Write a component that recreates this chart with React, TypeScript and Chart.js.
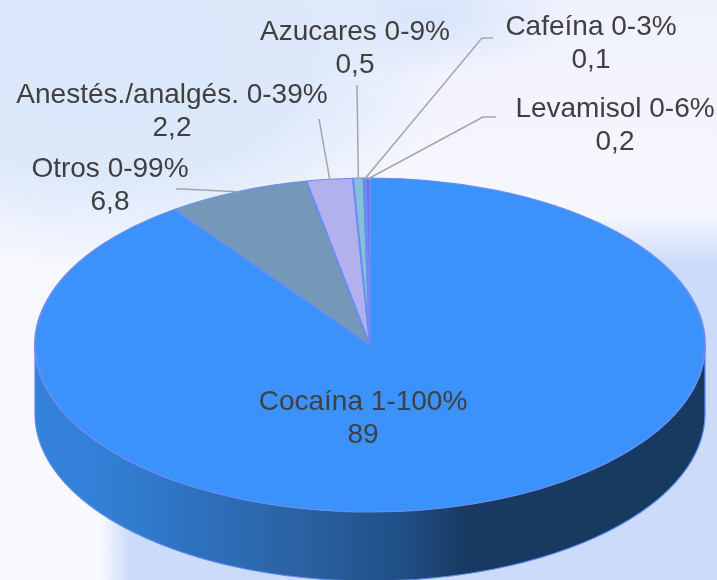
import React, { useEffect, useRef } from "react";
import { Chart, registerables } from "chart.js";

Chart.register(...registerables);

const categories = ["Cocaína 1-100%", "Otros 0-99%", "Anestés./analgés. 0-39%", "Azucares 0-9%", "Cafeína 0-3%", "Levamisol 0-6%"];
const values = [89, 6.8, 2.2, 0.5, 0.1, 0.2];
const valueLabels = ["89", "6,8", "2,2", "0,5", "0,1", "0,2"];
const sliceColors = ["#3A92FA", "#7698B8", "#B3B0EE", "#86C1D6", "#4F8CF0", "#6E6EEE"];

// Page layout of the labels (centre x, first baseline y) and their leader elbows.
const labelPlaces: [number, number][] = [
  [363, 410],
  [110, 177],
  [172, 103],
  [355, 40],
  [591, 35],
  [615, 117],
];
const leaderPaths: ([number, number][] | null)[] = [
  null,
  [[176, 189], [182, 189]],
  [[319, 119]],
  [[357, 85]],
  [[493, 38], [482, 38]],
  [[496, 117], [483, 117]],
];
const SQUASH = 0.4985;
const DEPTH = 69;

const pie3d = {
  id: "pie3d",
  beforeDatasetsDraw(chart: any) {
    const { ctx } = chart;
    const arc = chart.getDatasetMeta(0).data[0];
    const { x, y, outerRadius: r } = arc;
    const ry = r * SQUASH;
    ctx.save();
    const g = ctx.createLinearGradient(x - r, 0, x + r, 0);
    g.addColorStop(0, "#3582DC");
    g.addColorStop(0.1, "#3280D6");
    g.addColorStop(0.25, "#2E70BC");
    g.addColorStop(0.4, "#2A62A2");
    g.addColorStop(0.55, "#204F86");
    g.addColorStop(0.64, "#183A62");
    g.addColorStop(1, "#173A60");
    ctx.beginPath();
    ctx.ellipse(x, y, r, ry, 0, 0, Math.PI, false);
    ctx.lineTo(x - r, y + DEPTH);
    ctx.ellipse(x, y + DEPTH, r, ry, 0, Math.PI, 0, true);
    ctx.closePath();
    ctx.fillStyle = g;
    ctx.fill();
    ctx.beginPath();
    ctx.moveTo(x - r, y);
    ctx.lineTo(x - r, y + DEPTH);
    ctx.ellipse(x, y + DEPTH, r, ry, 0, Math.PI, 0, true);
    ctx.lineTo(x + r, y);
    ctx.strokeStyle = "#5E8BF2";
    ctx.lineWidth = 1.2;
    ctx.stroke();
    ctx.restore();
    ctx.save();
    ctx.translate(x, y);
    ctx.scale(1, SQUASH);
    ctx.translate(-x, -y);
  },
  afterDatasetsDraw(chart: any) {
    const { ctx } = chart;
    ctx.restore();
    const meta = chart.getDatasetMeta(0).data;
    ctx.save();
    ctx.strokeStyle = "#A6A6A6";
    ctx.lineWidth = 1.5;
    ctx.lineJoin = "round";
    leaderPaths.forEach((path, i) => {
      if (!path) return;
      const a = meta[i];
      const mid = (a.startAngle + a.endAngle) / 2;
      const reach = a.outerRadius - (i === 1 ? 0 : 2);
      const ex = a.x + reach * Math.cos(mid);
      const ey = a.y + reach * SQUASH * Math.sin(mid);
      ctx.beginPath();
      path.forEach(([px, py], k) => (k ? ctx.lineTo(px, py) : ctx.moveTo(px, py)));
      ctx.lineTo(ex, ey);
      ctx.stroke();
    });
    ctx.fillStyle = "#404040";
    ctx.font = '28px "Liberation Sans", Arial, sans-serif';
    ctx.textAlign = "center";
    ctx.textBaseline = "alphabetic";
    categories.forEach((c, i) => {
      const [lx, ly] = labelPlaces[i];
      ctx.fillText(c, lx, ly);
      ctx.fillText(valueLabels[i], lx, ly + 33);
    });
    ctx.restore();
  },
};

const backdrop = [
  "radial-gradient(ellipse 340px 215px at 110px 50px, #DAE7FA 0%, #DDE9FB 60%, rgba(232,238,252,0) 100%)",
  "radial-gradient(ellipse 150px 60px at 420px 15px, #D5E3F9 0%, rgba(225,233,250,0) 100%)",
  "linear-gradient(180deg, rgba(204,219,250,0) 215px, #CCDBFA 265px) right top / 120px 580px no-repeat",
  "linear-gradient(90deg, rgba(204,219,250,0) 100px, #CCDBFA 130px) left bottom / 100% 70px no-repeat",
  "linear-gradient(180deg, #EFF1FD 0%, #F6F7FE 35%, #F9F9FE 100%)",
].join(", ");

export default function App() {
  const ref = useRef<HTMLCanvasElement | null>(null);
  useEffect(() => {
    const chart = new Chart(ref.current as HTMLCanvasElement, {
      type: "pie",
      data: {
        labels: categories,
        datasets: [
          {
            data: values,
            backgroundColor: sliceColors,
            borderColor: "#6A8CF5",
            borderWidth: 2,
            clip: false,
          } as any,
        ],
      },
      options: {
        responsive: false,
        animation: false,
        radius: 335,
        rotation: 0,
        layout: { padding: { left: 23, top: 110 } },
        plugins: { legend: { display: false }, tooltip: { enabled: false }, title: { display: false } },
      } as any,
      plugins: [pie3d],
    });
    return () => chart.destroy();
  }, []);
  return (
    <div style={{ position: "absolute", left: 0, top: 0, width: 717, height: 580, overflow: "hidden", background: backdrop }}>
      <canvas ref={ref} width={717} height={580} style={{ display: "block" }} />
    </div>
  );
}
